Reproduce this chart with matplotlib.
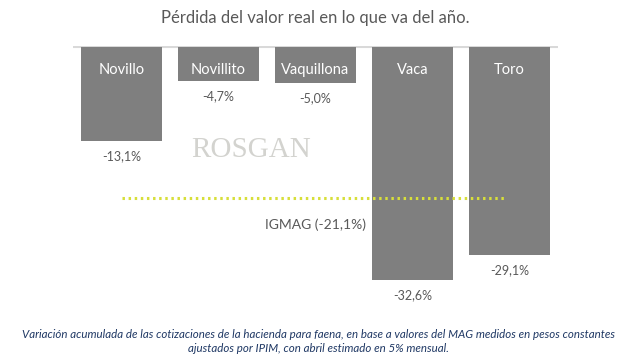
import matplotlib.pyplot as plt
from matplotlib.ticker import NullLocator

plt.rcParams['font.family'] = ['Lato', 'DejaVu Sans']

categorias = ['Novillo', 'Novillito', 'Vaquillona', 'Vaca', 'Toro']
variacion = [-13.1, -4.7, -5.0, -32.6, -29.1]
etiquetas = ['-13,1%', '-4,7%', '-5,0%', '-32,6%', '-29,1%']
igmag = -21.1
igmag_txt = 'IGMAG (-21,1%)'

fig = plt.figure(figsize=(6.3, 3.57), dpi=100)
ax = fig.add_axes([73/630, 57/357, 485/630, 254/357])

x = list(range(len(categorias)))
ax.bar(x, variacion, width=0.825, color='#7f7f7f', zorder=2)
ax.axhline(0, color='#d9d9d9', lw=1.5, zorder=1)

for i, (c, v, t) in enumerate(zip(categorias, variacion, etiquetas)):
    ax.text(i, -3.2, c, ha='center', va='center', color='white', fontsize=10.5, zorder=3)
    ax.text(i, v - 2.1, t, ha='center', va='center', color='#595959', fontsize=9, zorder=3)

# linea del IGMAG
ax.plot([0.0, 3.95], [igmag, igmag], ls=(0, (0.8, 1.2)), lw=2.2, color='#d7df3a', zorder=4)
ax.text(2.0, -24.8, igmag_txt, ha='center', va='center', color='#595959', fontsize=10)

# marca de agua
ax.text(1.335, -14.4, 'ROSGAN', ha='center', va='center', color='#d3d3cf',
        fontsize=21, family='Liberation Serif', zorder=1)

ax.set_xlim(-0.5, 4.5)
ax.set_ylim(-35.4, 0.2)
ax.xaxis.set_major_locator(NullLocator())
ax.yaxis.set_major_locator(NullLocator())
for s in ax.spines.values():
    s.set_visible(False)

fig.text(0.5, 1 - 18/357, 'Pérdida del valor real en lo que va del año.', ha='center', va='center',
         color='#595959', fontsize=12)
fig.text(0.505, 1 - 335/357, 'Variación acumulada de las cotizaciones de la hacienda para faena, en base a valores del MAG medidos en pesos constantes',
         ha='center', va='center', color='#1f3864', fontsize=8.3, style='italic')
fig.text(0.505, 1 - 349/357, 'ajustados por IPIM, con abril estimado en 5% mensual.',
         ha='center', va='center', color='#1f3864', fontsize=8.3, style='italic')

fig.savefig('out.png', dpi=100)
